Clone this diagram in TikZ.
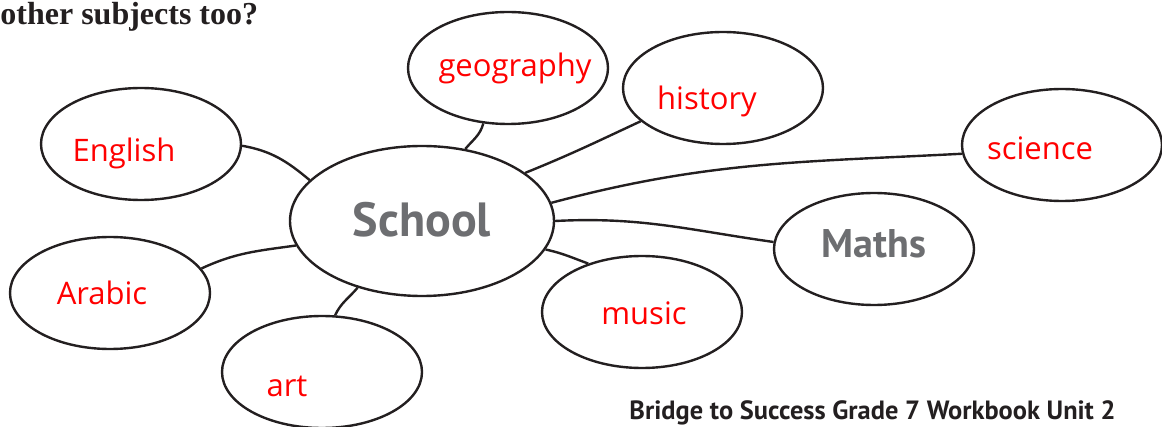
\documentclass[tikz,border=0pt]{standalone}
\usepackage{fontspec}
\setmainfont{Liberation Serif}
\newfontfamily\labelfont{Open Sans}
\newfontfamily\headfont{PT Sans}
\usetikzlibrary{shapes.geometric}
\definecolor{inkline}{HTML}{231F20}
\definecolor{inkgrey}{HTML}{6D6E71}
\definecolor{inkred}{HTML}{FF0000}
\begin{document}
\begin{tikzpicture}[x=0.5pt,y=-0.5pt,
    bubble/.style={draw=inkline,line width=1.2pt,ellipse,inner sep=0pt,minimum width=100pt,minimum height=56pt},
    subject/.style={text=inkred,font=\labelfont\fontsize{15.5}{18}\selectfont,anchor=base,inner sep=0pt},
    hub/.style={text=inkgrey,font=\headfont\bfseries\fontsize{24}{28}\selectfont,anchor=base,inner sep=0pt},
    link/.style={draw=inkline,line width=1.2pt}]
    \useasboundingbox (0,0) rectangle (1162,427);

    %draw question line
    \node[anchor=base west,inner sep=0pt,font=\bfseries\fontsize{16}{19}\selectfont,text=inkline] (question) at (0,25) {other subjects too?};

    %draw centre bubble
    \node[bubble,minimum width=132pt,minimum height=75pt] (school) at (422,221) {};
    \node[hub] (schooltxt) at (422,237) {School};

    %draw subject bubbles
    \foreach \name/\x/\y in {english/141/144, arabic/110/293, art/322/372, geography/508/68,
        history/723/88, science/1062/145, maths/874/249, music/642/312}{
        \node[bubble] (\name) at (\x,\y) {};
    }

    %draw subject names
    \foreach \name/\word/\x/\y in {english/English/124/162, arabic/Arabic/102/305, art/art/287/396,
        geography/geography/515/77, history/history/707/110, science/science/1040/160, music/music/644/325}{
        \node[subject] (\name txt) at (\x,\y) {\word};
    }
    \node[hub,font=\headfont\bfseries\fontsize{20}{24}\selectfont] (mathstxt) at (874,258) {Maths};

    %draw connecting lines
    \foreach \name/\from/\to/\o/\i in {english/-1/160/-10/140, arabic/15/191/25/188, art/77/-134/65/-130,
        geography/-114/59/-105/50, history/-158/25/-155/22}{
        \draw[link] (\name.\from) to[out=\o,in=\i] (school.\to);
    }
    \draw[link] (school.8) to[out=15,in=183] (science.185);
    \draw[link] (school.0) to[out=3,in=172] (maths.176);
    \draw[link] (school.-13) to[out=-12,in=160] (music.138);

    %draw footer
    \node[anchor=base east,inner sep=0pt,font=\headfont\bfseries\fontsize{13.2}{15}\selectfont,text=inkline] (footer) at (1116,419) {Bridge to Success Grade 7 Workbook Unit 2};
\end{tikzpicture}
\end{document}
